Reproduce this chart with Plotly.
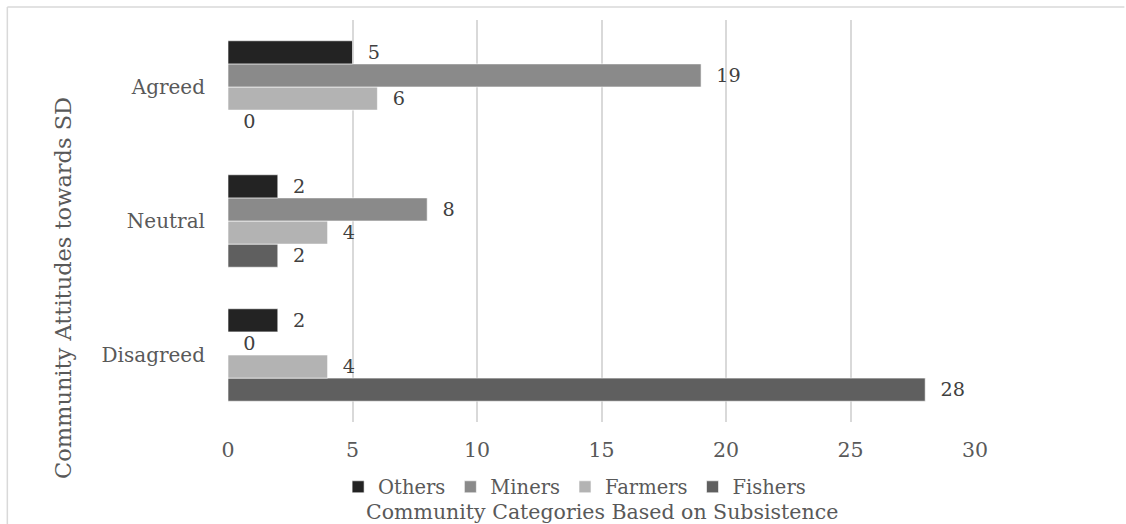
import plotly.graph_objects as go

# Attitude categories (bottom to top on the chart)
attitudes = ["Disagreed", "Neutral", "Agreed"]

# Respondent counts per subsistence group, in the order of attitudes
others = [2, 2, 5]
miners = [0, 8, 19]
farmers = [4, 4, 6]
fishers = [28, 2, 0]

x_ticks = [0, 5, 10, 15, 20, 25, 30]

FONT = "DejaVu Serif"
TEXT_GREY = "#595959"

# Traces are added bottom-up within each group; legend order is reversed below
series = [
    ("Fishers", fishers, "#5f5f5f"),
    ("Farmers", farmers, "#b3b3b3"),
    ("Miners", miners, "#8a8a8a"),
    ("Others", others, "#232323"),
]

fig = go.Figure()
for name, values, color in series:
    fig.add_trace(go.Bar(
        name=name,
        y=attitudes,
        x=values,
        orientation="h",
        marker=dict(color=color, line=dict(color="white", width=0.6)),
        texttemplate="\u00a0\u00a0%{x}",
        textposition="outside",
        textfont=dict(family=FONT, size=20, color="#404040"),
        cliponaxis=False,
    ))

fig.update_layout(
    width=1126,
    height=524,
    barmode="group",
    bargap=0.31,
    bargroupgap=0,
    plot_bgcolor="white",
    paper_bgcolor="white",
    margin=dict(l=228, r=151, t=20, b=102, autoexpand=False),
    font=dict(family=FONT, size=20, color=TEXT_GREY),
    legend=dict(
        orientation="h",
        traceorder="reversed",
        x=0.464,
        xanchor="center",
        y=-0.162,
        yanchor="middle",
        font=dict(family=FONT, size=19.5, color=TEXT_GREY),
        itemwidth=30,
        tracegroupgap=0,
        bgcolor="rgba(0,0,0,0)",
    ),
    xaxis=dict(
        range=[0, 30],
        tickvals=x_ticks,
        showgrid=True,
        gridcolor="#d9d9d9",
        gridwidth=1.5,
        zeroline=False,
        showline=False,
        ticks="",
        ticklabelstandoff=13,
        tickfont=dict(family=FONT, size=20.5, color=TEXT_GREY),
    ),
    yaxis=dict(
        categoryorder="array",
        categoryarray=attitudes,
        showgrid=False,
        zeroline=False,
        showline=False,
        ticks="",
        ticklabelstandoff=22,
        tickfont=dict(family=FONT, size=20, color=TEXT_GREY),
    ),
    annotations=[
        dict(
            text="Community Categories Based on Subsistence",
            xref="paper", yref="paper",
            x=0.5, y=-0.224,
            xanchor="center", yanchor="middle",
            showarrow=False,
            font=dict(family=FONT, size=20.5, color=TEXT_GREY),
        ),
        dict(
            text="Community Attitudes towards SD",
            xref="paper", yref="paper",
            x=-0.221, y=0.333,
            xanchor="center", yanchor="middle",
            textangle=-90,
            showarrow=False,
            font=dict(family=FONT, size=22.5, color=TEXT_GREY),
        ),
    ],
    shapes=[
        # chart frame: top and left edges
        dict(type="line", xref="paper", yref="paper",
             x0=-0.2954, x1=1.2, y0=1.0323, y1=1.0323,
             line=dict(color="#d9d9d9", width=1.5)),
        dict(type="line", xref="paper", yref="paper",
             x0=-0.2954, x1=-0.2954, y0=1.0323, y1=-0.3,
             line=dict(color="#d9d9d9", width=1.5)),
    ],
)

fig.write_html("out.html")
